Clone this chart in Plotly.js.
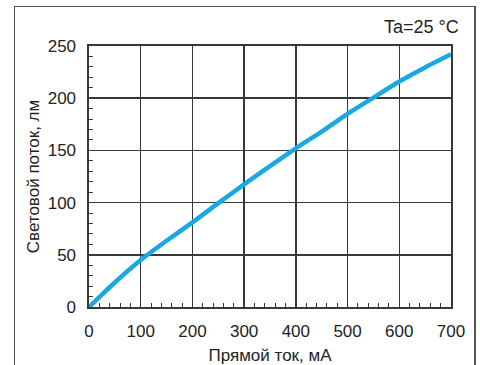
<!DOCTYPE html>
<html>
<head>
<meta charset="utf-8">
<script src="https://cdn.plot.ly/plotly-3.0.1.min.js"></script>
<style>
html,body{margin:0;padding:0;background:#fff;}
#chart{width:480px;height:365px;}
</style>
</head>
<body>
<div id="chart"></div>
<script>
const currentMA = [0, 20, 50, 100, 150, 200, 250, 300, 350, 400, 450, 500, 550, 600, 650, 700];
const fluxLm    = [0, 9.5, 23.5, 45, 63.5, 81, 99.5, 117.5, 135, 152, 168, 185, 200.5, 216, 229.5, 242];
const xTitle = 'Прямой ток, мА';
const yTitle = 'Световой поток, лм';
const note = 'Ta=25 °C';

const font = {family: 'Liberation Sans, Arial, sans-serif', size: 17, color: '#222'};
const noteFont = {family: 'Liberation Sans, Arial, sans-serif', size: 18, color: '#222'};
const gridColor = '#383838';
const frameColor = '#555';

const data = [
  {
    x: currentMA, y: fluxLm, type: 'scatter', mode: 'lines',
    line: {color: '#1aa8e3', width: 4.5, shape: 'spline', smoothing: 0.6},
    hoverinfo: 'skip', xaxis: 'x', yaxis: 'y'
  },
  {x: [], y: [], type: 'scatter', mode: 'lines', xaxis: 'x2', yaxis: 'y2', hoverinfo: 'skip'}
];

const layout = {
  width: 480, height: 365,
  margin: {l: 15, r: 6, t: 7, b: 0},
  paper_bgcolor: '#fff', plot_bgcolor: 'rgba(0,0,0,0)',
  font: font,
  showlegend: false,
  xaxis: {
    domain: [0.1612, 0.9499], anchor: 'y',
    range: [0, 700], dtick: 100, tick0: 0, fixedrange: true,
    showgrid: true, gridcolor: gridColor, gridwidth: 1.5,
    showline: true, linecolor: gridColor, linewidth: 1.5, mirror: true,
    zeroline: false, ticks: '', ticklabelstandoff: 8,
    tickfont: font,
    minor: {dtick: 20, ticks: 'inside', ticklen: 4, tickcolor: gridColor, tickwidth: 1, showgrid: false},
    title: {text: xTitle, font: font, standoff: 11}
  },
  yaxis: {
    domain: [0.1620, 0.8911], anchor: 'x',
    range: [0, 250], dtick: 50, tick0: 0, fixedrange: true,
    showgrid: true, gridcolor: gridColor, gridwidth: 1.5,
    showline: true, linecolor: gridColor, linewidth: 1.5, mirror: true,
    zeroline: false, ticks: '', ticklabelstandoff: 8,
    tickfont: font,
    minor: {dtick: 10, ticks: 'inside', ticklen: 4, tickcolor: gridColor, tickwidth: 1, showgrid: false},
    title: {text: yTitle, font: font, standoff: 4}
  },
  xaxis2: {
    domain: [0, 1], anchor: 'y2', side: 'top', range: [0, 1], fixedrange: true,
    showline: true, linecolor: frameColor, linewidth: 1.5, mirror: false,
    showgrid: false, zeroline: false, showticklabels: false, ticks: ''
  },
  yaxis2: {
    domain: [0, 1], anchor: 'x2', range: [0, 1], fixedrange: true,
    showline: true, linecolor: frameColor, linewidth: 1.5, mirror: true,
    showgrid: false, zeroline: false, showticklabels: false, ticks: ''
  },
  annotations: [{
    text: note, xref: 'paper', yref: 'paper', x: 0.9717, y: 0.9106,
    xanchor: 'right', yanchor: 'bottom', showarrow: false, font: noteFont
  }]
};

Plotly.newPlot('chart', data, layout, {displayModeBar: false, staticPlot: true});
</script>
</body>
</html>
